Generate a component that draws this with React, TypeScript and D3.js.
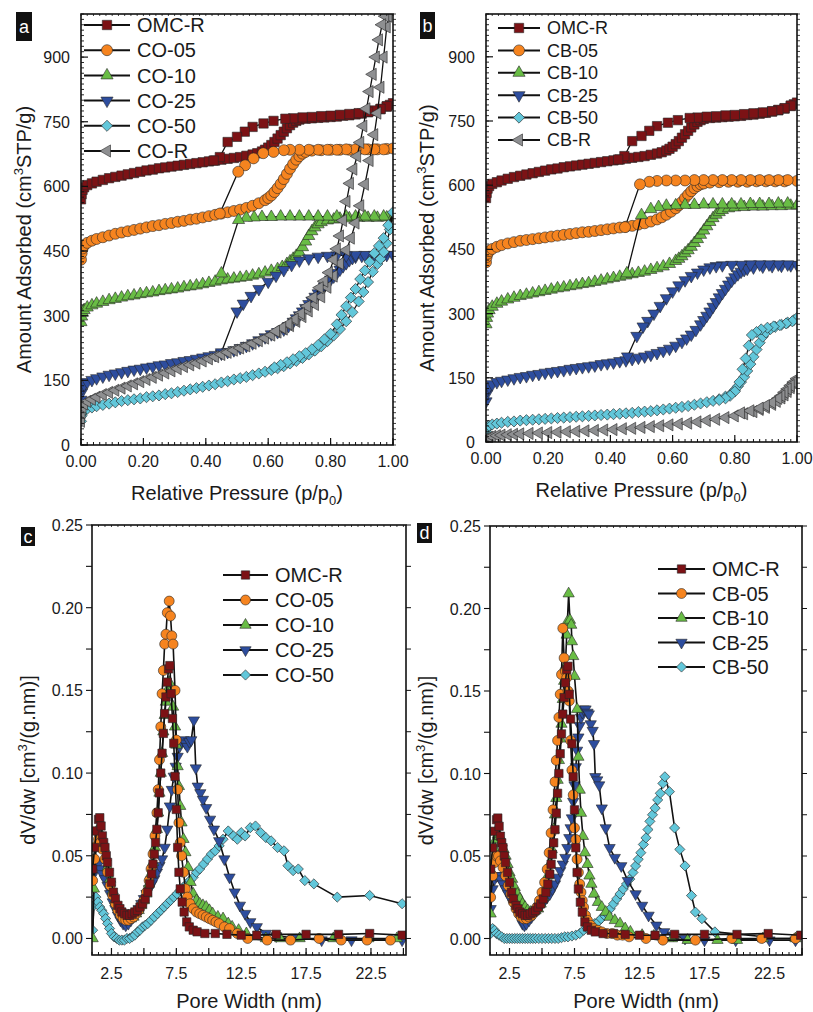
import React from 'react'
import * as d3 from 'd3'

// ---- isotherms, [p/p0, cm3 STP/g] ----
const omcR_ads = [[0,570],[0.002,582],[0.005,592],[0.01,598],[0.02,603],[0.035,607],[0.05,611],[0.07,615],[0.09,619],[0.11,622],[0.13,625],[0.15,628],[0.17,631],[0.19,634],[0.21,637],[0.23,639],[0.25,642],[0.27,644],[0.29,646],[0.31,648],[0.33,650],[0.35,652],[0.37,654],[0.39,656],[0.41,658],[0.43,660],[0.45,662],[0.47,664],[0.49,666],[0.51,668],[0.53,671],[0.55,674],[0.565,677],[0.58,681],[0.59,685],[0.6,690],[0.61,696],[0.62,703],[0.63,711],[0.64,719],[0.65,727],[0.66,735],[0.67,742],[0.68,748],[0.69,752],[0.7,755],[0.72,757],[0.74,758],[0.76,759],[0.78,760],[0.8,761],[0.82,762],[0.84,764],[0.86,765],[0.88,767],[0.9,769],[0.92,772],[0.94,775],[0.96,779],[0.98,785],[0.99,789],[1.0,793]]
const omcR_des = [[0.98,786],[0.96,780],[0.94,776],[0.92,773],[0.89,770],[0.86,768],[0.83,766],[0.8,764],[0.77,763],[0.74,761],[0.71,760],[0.68,758],[0.655,757],[0.617,752],[0.585,746],[0.55,738],[0.525,727],[0.5,715],[0.47,703],[0.445,668],[0.425,660]]

const co05_ads = [[0,430],[0.002,445],[0.005,456],[0.01,463],[0.02,469],[0.035,474],[0.05,478],[0.07,482],[0.09,486],[0.11,490],[0.13,493],[0.15,496],[0.17,499],[0.19,502],[0.21,505],[0.23,508],[0.25,510],[0.27,513],[0.29,515],[0.31,518],[0.33,520],[0.35,523],[0.37,525],[0.39,528],[0.41,531],[0.43,534],[0.45,537],[0.47,540],[0.49,543],[0.51,546],[0.53,550],[0.55,555],[0.57,561],[0.59,568],[0.6,573],[0.61,579],[0.62,587],[0.63,596],[0.64,606],[0.65,617],[0.66,629],[0.67,641],[0.68,652],[0.69,662],[0.7,670],[0.71,676],[0.72,680],[0.74,683],[0.77,684],[0.8,685],[0.83,685],[0.86,685],[0.89,686],[0.92,686],[0.95,686],[0.98,687],[1.0,688]]
const co05_des = [[0.97,686],[0.94,686],[0.91,686],[0.88,686],[0.85,686],[0.82,685],[0.79,685],[0.76,685],[0.73,685],[0.7,685],[0.67,685],[0.65,684],[0.617,680],[0.584,677],[0.553,665],[0.526,649],[0.504,634],[0.445,537]]

const co10_ads = [[0,285],[0.002,298],[0.005,307],[0.01,313],[0.02,319],[0.035,324],[0.05,328],[0.07,332],[0.09,336],[0.11,339],[0.13,342],[0.15,345],[0.17,347],[0.19,350],[0.21,352],[0.23,354],[0.25,357],[0.27,359],[0.29,361],[0.31,363],[0.33,366],[0.35,368],[0.37,370],[0.39,373],[0.41,376],[0.43,379],[0.45,382],[0.47,384],[0.49,386],[0.51,388],[0.53,390],[0.55,393],[0.57,396],[0.59,400],[0.61,404],[0.63,408],[0.645,413],[0.66,420],[0.67,426],[0.68,432],[0.69,439],[0.7,447],[0.71,459],[0.72,472],[0.73,485],[0.74,496],[0.75,505],[0.76,512],[0.77,517],[0.79,521],[0.81,523],[0.83,525],[0.86,526],[0.89,527],[0.92,527],[0.95,527],[0.98,528],[1.0,528]]
const co10_des = [[0.97,530],[0.94,530],[0.91,530],[0.88,530],[0.85,530],[0.82,530],[0.79,530],[0.76,530],[0.73,530],[0.7,530],[0.67,530],[0.64,530],[0.61,529],[0.58,529],[0.555,528],[0.53,527],[0.505,522],[0.45,398]]

const co25_ads = [[0,105],[0.002,122],[0.005,133],[0.01,140],[0.02,146],[0.035,151],[0.05,155],[0.07,159],[0.09,163],[0.11,166],[0.13,169],[0.15,172],[0.17,175],[0.19,177],[0.21,180],[0.23,182],[0.25,185],[0.27,187],[0.29,190],[0.31,192],[0.33,195],[0.35,197],[0.37,200],[0.39,203],[0.41,206],[0.43,209],[0.45,212],[0.47,216],[0.49,220],[0.51,225],[0.53,230],[0.55,236],[0.57,243],[0.59,250],[0.61,257],[0.63,262],[0.65,268],[0.665,276],[0.68,286],[0.69,294],[0.7,301],[0.71,310],[0.72,318],[0.73,327],[0.74,335],[0.75,344],[0.76,352],[0.77,360],[0.78,368],[0.79,376],[0.8,384],[0.81,391],[0.82,399],[0.83,407],[0.84,415],[0.85,422],[0.86,429],[0.87,434],[0.88,437],[0.9,439],[0.92,440],[0.95,440],[0.98,441],[1.0,441]]
const co25_des = [[0.97,441],[0.94,441],[0.91,441],[0.88,441],[0.85,440],[0.82,440],[0.79,439],[0.76,437],[0.73,433],[0.7,428],[0.675,418],[0.65,406],[0.625,393],[0.6,379],[0.57,362],[0.545,346],[0.52,328],[0.5,310],[0.45,215]]

const co50_ads = [[0,55],[0.002,68],[0.005,75],[0.01,80],[0.02,84],[0.035,87],[0.05,90],[0.07,93],[0.09,96],[0.11,99],[0.13,102],[0.15,104],[0.17,106],[0.19,108],[0.21,111],[0.23,113],[0.25,115],[0.27,118],[0.29,120],[0.31,123],[0.33,126],[0.35,129],[0.37,132],[0.39,135],[0.41,138],[0.43,141],[0.45,145],[0.47,148],[0.49,152],[0.51,155],[0.53,158],[0.55,162],[0.57,166],[0.59,170],[0.61,174],[0.63,178],[0.65,183],[0.67,189],[0.69,195],[0.71,202],[0.73,210],[0.75,219],[0.77,229],[0.79,241],[0.81,254],[0.83,269],[0.85,287],[0.87,308],[0.89,333],[0.905,355],[0.92,378],[0.935,402],[0.95,420],[0.96,432],[0.97,448],[0.98,468],[0.99,500],[1.0,540]]
const co50_des = [[0.985,510],[0.97,480],[0.955,462],[0.94,445],[0.925,425],[0.91,405],[0.895,385],[0.88,362],[0.865,342],[0.85,322],[0.835,302],[0.82,280],[0.8,258],[0.78,245],[0.76,232],[0.74,222],[0.72,213],[0.7,206],[0.68,199],[0.66,192],[0.64,186],[0.62,180]]

const coR_ads = [[0,55],[0.002,75],[0.005,88],[0.01,95],[0.02,101],[0.035,106],[0.05,111],[0.07,117],[0.09,122],[0.11,127],[0.13,132],[0.15,137],[0.17,142],[0.19,147],[0.21,152],[0.23,157],[0.25,162],[0.27,167],[0.29,172],[0.31,177],[0.33,182],[0.35,186],[0.37,190],[0.39,195],[0.41,200],[0.43,205],[0.45,210],[0.47,215],[0.49,220],[0.51,225],[0.53,230],[0.55,236],[0.57,242],[0.59,248],[0.61,255],[0.63,262],[0.65,269],[0.67,277],[0.69,287],[0.71,298],[0.73,311],[0.75,326],[0.77,344],[0.79,366],[0.81,392],[0.83,421],[0.85,452],[0.865,480],[0.88,515],[0.895,555],[0.91,605],[0.925,660],[0.94,720],[0.95,770],[0.96,830],[0.97,900],[0.98,970],[0.985,995]]
const coR_des = [[0.975,995],[0.965,975],[0.955,940],[0.945,900],[0.935,860],[0.925,820],[0.915,780],[0.905,740],[0.895,702],[0.885,670],[0.873,640],[0.862,607],[0.851,565],[0.84,521],[0.83,485],[0.82,455],[0.81,430],[0.795,400],[0.78,380],[0.765,365],[0.745,342],[0.725,322],[0.705,305],[0.685,292],[0.665,281],[0.645,272],[0.625,264]]

const cb05_ads = [[0,420],[0.002,432],[0.005,440],[0.01,446],[0.02,451],[0.035,456],[0.05,460],[0.07,464],[0.09,467],[0.11,470],[0.13,472],[0.15,474],[0.17,476],[0.19,478],[0.21,480],[0.23,482],[0.25,484],[0.27,486],[0.29,488],[0.31,490],[0.33,491],[0.35,493],[0.37,495],[0.39,497],[0.41,499],[0.43,501],[0.45,503],[0.47,505],[0.49,508],[0.51,511],[0.53,515],[0.55,520],[0.565,525],[0.58,531],[0.595,538],[0.61,546],[0.62,553],[0.63,561],[0.64,570],[0.65,578],[0.66,586],[0.67,593],[0.68,598],[0.69,602],[0.7,604],[0.72,606],[0.75,607],[0.78,608],[0.81,608],[0.84,608],[0.87,609],[0.9,609],[0.93,609],[0.96,609],[1.0,610]]
const cb05_des = [[0.97,612],[0.94,612],[0.91,612],[0.88,612],[0.85,612],[0.82,612],[0.79,612],[0.76,612],[0.73,612],[0.7,612],[0.67,612],[0.64,611],[0.61,611],[0.58,611],[0.55,610],[0.525,608],[0.495,602],[0.447,502]]

const cb10_ads = [[0,275],[0.002,290],[0.005,300],[0.01,308],[0.02,316],[0.035,323],[0.05,328],[0.07,333],[0.09,337],[0.11,341],[0.13,344],[0.15,347],[0.17,350],[0.19,353],[0.21,356],[0.23,359],[0.25,361],[0.27,364],[0.29,366],[0.31,369],[0.33,371],[0.35,374],[0.37,377],[0.39,380],[0.41,383],[0.43,386],[0.45,389],[0.47,392],[0.49,395],[0.51,398],[0.53,402],[0.55,406],[0.57,410],[0.59,416],[0.61,423],[0.62,428],[0.63,434],[0.64,441],[0.65,448],[0.66,456],[0.67,465],[0.68,474],[0.69,484],[0.7,494],[0.71,504],[0.72,514],[0.73,523],[0.74,531],[0.75,537],[0.76,542],[0.78,546],[0.8,548],[0.83,549],[0.86,550],[0.89,550],[0.92,551],[0.95,551],[0.98,552],[1.0,553]]
const cb10_des = [[0.97,557],[0.94,557],[0.91,556],[0.88,556],[0.85,556],[0.82,555],[0.79,555],[0.76,555],[0.73,555],[0.7,555],[0.67,554],[0.64,554],[0.61,553],[0.58,552],[0.555,549],[0.53,544],[0.5,530],[0.453,394]]

const cb25_ads = [[0,95],[0.002,112],[0.005,122],[0.01,129],[0.02,135],[0.035,140],[0.05,143],[0.07,146],[0.09,149],[0.11,152],[0.13,154],[0.15,157],[0.17,159],[0.19,162],[0.21,164],[0.23,166],[0.25,168],[0.27,171],[0.29,173],[0.31,175],[0.33,177],[0.35,179],[0.37,182],[0.39,184],[0.41,186],[0.43,189],[0.45,191],[0.47,194],[0.49,197],[0.51,200],[0.53,204],[0.55,208],[0.57,213],[0.59,218],[0.61,225],[0.63,234],[0.645,242],[0.66,251],[0.675,262],[0.69,275],[0.7,285],[0.71,295],[0.72,305],[0.73,316],[0.74,327],[0.75,338],[0.76,348],[0.77,358],[0.78,368],[0.79,377],[0.8,385],[0.81,392],[0.82,398],[0.83,402],[0.84,405],[0.86,408],[0.89,410],[0.92,411],[0.95,412],[0.98,413],[1.0,414]]
const cb25_des = [[0.97,415],[0.94,415],[0.91,415],[0.88,415],[0.85,415],[0.82,414],[0.79,414],[0.76,413],[0.74,411],[0.72,408],[0.7,403],[0.68,396],[0.66,388],[0.64,378],[0.62,366],[0.6,352],[0.58,336],[0.56,318],[0.54,300],[0.52,283],[0.505,270],[0.485,248],[0.455,200]]

const cb50_ads = [[0,25],[0.002,31],[0.005,35],[0.01,38],[0.02,41],[0.035,43],[0.05,45],[0.07,47],[0.09,48],[0.11,50],[0.13,51],[0.15,52],[0.17,53],[0.19,54],[0.21,55],[0.23,56],[0.25,57],[0.27,58],[0.29,59],[0.31,60],[0.33,61],[0.35,62],[0.37,63],[0.39,64],[0.41,65],[0.43,66],[0.45,67],[0.47,68],[0.49,70],[0.51,71],[0.53,72],[0.55,74],[0.57,76],[0.59,78],[0.61,80],[0.63,82],[0.65,84],[0.67,87],[0.69,90],[0.71,93],[0.73,96],[0.75,100],[0.77,106],[0.79,114],[0.8,121],[0.81,130],[0.82,140],[0.83,152],[0.84,166],[0.85,182],[0.86,199],[0.87,216],[0.88,232],[0.89,246],[0.9,256],[0.915,264],[0.93,269],[0.95,274],[0.97,279],[0.99,285],[1.0,290]]
const cb50_des = [[0.985,282],[0.965,277],[0.945,273],[0.925,270],[0.905,267],[0.885,263],[0.87,257],[0.855,250],[0.845,225],[0.835,195],[0.825,170],[0.815,140],[0.8,118],[0.785,108],[0.77,102],[0.75,98]]

const cbR_ads = [[0,5],[0.005,9],[0.01,11],[0.02,13],[0.035,15],[0.05,16],[0.07,17],[0.09,18],[0.11,19],[0.14,20],[0.17,21],[0.2,22],[0.23,23],[0.26,24],[0.29,25],[0.32,26],[0.35,27],[0.38,28],[0.41,29],[0.44,31],[0.47,32],[0.5,34],[0.53,36],[0.56,38],[0.59,40],[0.62,42],[0.65,44],[0.68,47],[0.71,50],[0.74,53],[0.77,57],[0.8,61],[0.83,66],[0.86,71],[0.88,76],[0.9,81],[0.92,88],[0.935,95],[0.95,103],[0.96,110],[0.97,118],[0.98,127],[0.99,137],[1.0,148]]
const cbR_des = [[0.99,140],[0.98,132],[0.97,124],[0.96,116],[0.95,108],[0.94,102],[0.92,92],[0.9,85],[0.88,79],[0.85,73],[0.82,68]]

// ---- pore size distributions, [nm, cm3/(g.nm)] ----
const omcR_psd = [[1.05,0.042],[1.2,0.055],[1.35,0.065],[1.5,0.072],[1.6,0.073],[1.7,0.068],[1.8,0.062],[1.9,0.058],[2.0,0.055],[2.1,0.05],[2.2,0.046],[2.35,0.04],[2.5,0.034],[2.65,0.028],[2.8,0.024],[3.0,0.02],[3.15,0.018],[3.3,0.016],[3.5,0.015],[3.7,0.014],[3.9,0.014],[4.1,0.015],[4.3,0.016],[4.5,0.017],[4.7,0.019],[4.9,0.021],[5.1,0.024],[5.3,0.028],[5.45,0.033],[5.6,0.039],[5.7,0.045],[5.8,0.051],[5.9,0.058],[6.0,0.066],[6.1,0.076],[6.2,0.088],[6.3,0.1],[6.4,0.112],[6.5,0.124],[6.6,0.136],[6.7,0.146],[6.8,0.155],[6.9,0.163],[7.0,0.165],[7.1,0.148],[7.2,0.133],[7.3,0.118],[7.4,0.098],[7.5,0.078],[7.6,0.055],[7.7,0.04],[7.8,0.03],[7.95,0.022],[8.1,0.016],[8.3,0.01],[8.5,0.007],[8.8,0.005],[9.1,0.004],[9.7,0.003],[10.5,0.003],[11.4,0.0025],[12.5,0.002],[13.7,0.002],[15.2,0.0025],[17.5,0.0025],[20.0,0.0025],[22.4,0.003],[24.9,0.002]]
const co05_psd = [[1.05,0.035],[1.2,0.048],[1.35,0.056],[1.5,0.06],[1.65,0.058],[1.8,0.054],[2.0,0.048],[2.2,0.04],[2.4,0.032],[2.6,0.026],[2.8,0.021],[3.0,0.017],[3.2,0.014],[3.4,0.012],[3.6,0.011],[3.8,0.011],[4.0,0.012],[4.2,0.013],[4.4,0.015],[4.6,0.017],[4.8,0.02],[5.0,0.023],[5.2,0.028],[5.4,0.035],[5.55,0.042],[5.7,0.051],[5.85,0.062],[6.0,0.076],[6.1,0.09],[6.2,0.108],[6.3,0.128],[6.4,0.148],[6.5,0.162],[6.6,0.178],[6.7,0.184],[6.8,0.197],[6.95,0.204],[7.05,0.195],[7.15,0.183],[7.25,0.178],[7.4,0.15],[7.5,0.12],[7.6,0.09],[7.7,0.07],[7.8,0.058],[7.9,0.05],[8.05,0.04],[8.2,0.03],[8.35,0.025],[8.55,0.021],[8.8,0.018],[9.05,0.016],[9.3,0.015],[9.55,0.014],[9.8,0.013],[10.05,0.012],[10.3,0.011],[10.55,0.01],[10.8,0.009],[11.2,0.007],[11.6,0.006],[12.2,0.003],[13.0,0.0],[14.5,-0.001],[16.3,-0.001],[18.5,0.0],[20.2,-0.001],[22.2,-0.001],[24.0,-0.001]]
const co10_psd = [[1.05,0.0],[1.15,0.03],[1.3,0.055],[1.45,0.066],[1.6,0.064],[1.75,0.06],[1.9,0.055],[2.05,0.049],[2.2,0.043],[2.4,0.036],[2.6,0.029],[2.8,0.023],[3.0,0.019],[3.2,0.016],[3.4,0.013],[3.6,0.012],[3.8,0.012],[4.0,0.012],[4.2,0.013],[4.4,0.015],[4.6,0.017],[4.8,0.02],[5.0,0.023],[5.2,0.027],[5.4,0.033],[5.55,0.039],[5.7,0.046],[5.85,0.055],[6.0,0.066],[6.1,0.076],[6.2,0.088],[6.3,0.1],[6.4,0.112],[6.5,0.125],[6.6,0.135],[6.7,0.143],[6.8,0.15],[6.95,0.155],[7.1,0.15],[7.25,0.14],[7.4,0.128],[7.5,0.117],[7.6,0.104],[7.7,0.092],[7.8,0.08],[7.9,0.07],[8.05,0.06],[8.2,0.052],[8.4,0.043],[8.6,0.034],[8.8,0.027],[9.05,0.023],[9.3,0.021],[9.55,0.02],[9.8,0.019],[10.05,0.017],[10.3,0.015],[10.7,0.013],[11.1,0.012],[11.5,0.009],[11.8,0.007],[12.3,0.005],[12.9,0.003],[13.6,0.001],[14.4,0.0],[15.5,0.0],[17.0,0.0],[19.6,0.0],[22.3,0.0],[24.5,0.0]]
const co25_psd = [[1.05,0.038],[1.2,0.043],[1.35,0.046],[1.5,0.045],[1.65,0.042],[1.8,0.039],[2.0,0.036],[2.2,0.032],[2.4,0.027],[2.6,0.022],[2.8,0.018],[3.0,0.014],[3.2,0.011],[3.4,0.009],[3.6,0.008],[3.8,0.009],[4.0,0.011],[4.2,0.013],[4.4,0.015],[4.6,0.018],[4.8,0.021],[5.0,0.024],[5.2,0.027],[5.4,0.03],[5.6,0.033],[5.8,0.036],[6.0,0.04],[6.2,0.044],[6.4,0.048],[6.6,0.055],[6.8,0.066],[7.0,0.08],[7.15,0.09],[7.3,0.098],[7.45,0.104],[7.6,0.11],[7.75,0.116],[7.9,0.119],[8.05,0.12],[8.2,0.118],[8.35,0.116],[8.5,0.119],[8.65,0.12],[8.85,0.132],[9.0,0.103],[9.15,0.092],[9.35,0.088],[9.55,0.084],[9.8,0.079],[10.1,0.072],[10.4,0.066],[10.8,0.059],[11.2,0.048],[11.6,0.037],[12.0,0.028],[12.4,0.02],[12.8,0.015],[13.2,0.01],[13.7,0.007],[14.4,0.003],[15.2,0.0015],[16.5,0.0005],[18.7,-0.001],[21.0,-0.001],[24.9,-0.001]]
const co50_psd = [[1.05,0.005],[1.15,0.02],[1.3,0.025],[1.45,0.022],[1.6,0.019],[1.75,0.017],[1.9,0.015],[2.05,0.012],[2.2,0.009],[2.35,0.006],[2.5,0.003],[2.7,0.001],[2.9,0.0],[3.1,-0.001],[3.3,-0.001],[3.5,-0.001],[3.7,0.0],[3.9,0.0],[4.1,0.001],[4.3,0.002],[4.5,0.004],[4.7,0.005],[4.9,0.007],[5.1,0.008],[5.3,0.009],[5.55,0.011],[5.8,0.013],[6.05,0.015],[6.3,0.017],[6.55,0.019],[6.8,0.021],[7.05,0.023],[7.3,0.025],[7.55,0.027],[7.8,0.029],[8.05,0.031],[8.3,0.033],[8.55,0.035],[8.8,0.037],[9.05,0.04],[9.3,0.042],[9.6,0.045],[9.9,0.048],[10.2,0.051],[10.5,0.053],[10.8,0.056],[11.1,0.06],[11.5,0.065],[11.9,0.062],[12.2,0.06],[12.5,0.064],[12.8,0.062],[13.2,0.067],[13.6,0.068],[14.0,0.064],[14.4,0.061],[14.8,0.059],[15.3,0.055],[15.8,0.053],[16.1,0.044],[16.5,0.041],[16.9,0.042],[17.4,0.035],[18.1,0.033],[19.9,0.025],[22.4,0.026],[24.9,0.021]]

const cb05_psd = [[1.05,0.025],[1.2,0.038],[1.35,0.046],[1.5,0.05],[1.65,0.05],[1.8,0.047],[2.0,0.043],[2.2,0.038],[2.4,0.032],[2.6,0.027],[2.8,0.022],[3.0,0.018],[3.2,0.015],[3.4,0.013],[3.6,0.012],[3.8,0.012],[4.0,0.013],[4.2,0.014],[4.4,0.016],[4.6,0.019],[4.8,0.023],[5.0,0.028],[5.2,0.034],[5.4,0.042],[5.55,0.052],[5.7,0.064],[5.85,0.078],[6.0,0.095],[6.1,0.108],[6.2,0.12],[6.3,0.134],[6.4,0.148],[6.5,0.16],[6.6,0.188],[6.7,0.17],[6.8,0.162],[6.9,0.158],[7.0,0.15],[7.1,0.144],[7.2,0.12],[7.3,0.102],[7.4,0.087],[7.5,0.067],[7.6,0.06],[7.7,0.048],[7.8,0.04],[7.9,0.033],[8.0,0.028],[8.1,0.023],[8.2,0.019],[8.35,0.014],[8.5,0.011],[8.75,0.008],[9.0,0.006],[9.3,0.005],[9.6,0.004],[10.0,0.003],[10.4,0.003],[10.8,0.002],[11.2,0.002],[11.7,0.001],[13.0,0.0],[14.3,-0.001],[16.8,-0.001],[19.6,0.0],[21.9,0.0],[24.5,0.0]]
const cb10_psd = [[1.05,0.015],[1.15,0.04],[1.3,0.055],[1.45,0.06],[1.6,0.063],[1.75,0.062],[1.9,0.058],[2.05,0.054],[2.2,0.05],[2.35,0.045],[2.5,0.04],[2.7,0.036],[2.9,0.031],[3.1,0.027],[3.3,0.024],[3.5,0.021],[3.7,0.019],[3.9,0.017],[4.1,0.016],[4.3,0.016],[4.5,0.017],[4.7,0.018],[4.9,0.021],[5.1,0.025],[5.3,0.031],[5.45,0.038],[5.6,0.045],[5.75,0.054],[5.9,0.066],[6.0,0.075],[6.1,0.085],[6.2,0.096],[6.3,0.108],[6.4,0.121],[6.5,0.13],[6.6,0.145],[6.7,0.156],[6.8,0.165],[6.9,0.184],[6.95,0.192],[7.05,0.209],[7.15,0.193],[7.25,0.19],[7.3,0.18],[7.4,0.171],[7.5,0.159],[7.7,0.139],[7.8,0.11],[7.9,0.09],[8.0,0.076],[8.15,0.062],[8.3,0.052],[8.5,0.045],[8.65,0.038],[8.8,0.033],[9.0,0.027],[9.3,0.022],[9.6,0.019],[9.9,0.016],[10.2,0.013],[10.6,0.011],[11.0,0.009],[11.4,0.006],[11.8,0.004],[12.7,0.002],[13.6,0.0015],[15.0,0.0],[16.2,-0.001],[18.5,-0.001],[20.0,-0.001],[22.0,0.0],[24.5,0.0]]
const cb25_psd = [[1.05,0.018],[1.2,0.03],[1.35,0.036],[1.5,0.038],[1.65,0.038],[1.8,0.036],[2.0,0.033],[2.2,0.03],[2.4,0.027],[2.6,0.024],[2.8,0.021],[3.0,0.018],[3.2,0.015],[3.35,0.012],[3.5,0.009],[3.65,0.008],[3.8,0.009],[4.0,0.011],[4.2,0.013],[4.4,0.015],[4.6,0.017],[4.8,0.019],[5.0,0.021],[5.2,0.023],[5.4,0.025],[5.6,0.027],[5.8,0.03],[6.0,0.033],[6.2,0.037],[6.4,0.041],[6.6,0.045],[6.8,0.049],[6.95,0.055],[7.1,0.061],[7.2,0.067],[7.3,0.073],[7.4,0.083],[7.5,0.093],[7.6,0.104],[7.7,0.114],[7.8,0.122],[7.9,0.129],[8.0,0.134],[8.1,0.137],[8.2,0.139],[8.35,0.139],[8.5,0.137],[8.6,0.136],[8.75,0.13],[8.9,0.126],[9.0,0.118],[9.1,0.098],[9.25,0.096],[9.4,0.093],[9.6,0.079],[9.9,0.067],[10.2,0.055],[10.6,0.049],[11.1,0.044],[11.6,0.035],[12.2,0.027],[12.7,0.02],[13.2,0.014],[13.8,0.008],[14.4,0.004],[15.1,0.002],[16.0,0.0],[17.5,-0.001],[19.9,-0.001],[22.5,-0.001],[24.5,-0.001]]
const cb50_psd = [[1.05,0.003],[1.2,0.006],[1.35,0.005],[1.5,0.003],[1.7,0.002],[1.9,0.001],[2.1,0.0],[2.3,0.0],[2.5,0.0],[2.7,0.0],[2.9,0.0],[3.1,0.0],[3.3,0.0],[3.5,0.0],[3.7,0.0],[3.9,0.0],[4.1,0.0],[4.3,0.0],[4.5,0.0],[4.75,0.0],[5.0,0.0],[5.25,0.0],[5.5,0.0],[5.75,0.0],[6.0,0.0],[6.25,0.0],[6.5,0.0005],[6.75,0.001],[7.0,0.001],[7.3,0.0015],[7.6,0.002],[7.9,0.003],[8.2,0.005],[8.5,0.006],[8.8,0.008],[9.05,0.009],[9.3,0.01],[9.55,0.012],[9.8,0.014],[10.0,0.015],[10.25,0.018],[10.5,0.021],[10.75,0.024],[11.0,0.027],[11.25,0.03],[11.5,0.033],[11.75,0.036],[12.0,0.04],[12.2,0.044],[12.4,0.048],[12.6,0.052],[12.8,0.057],[13.0,0.061],[13.15,0.066],[13.3,0.071],[13.5,0.075],[13.7,0.079],[13.9,0.084],[14.1,0.088],[14.3,0.094],[14.45,0.098],[14.8,0.089],[15.2,0.067],[15.6,0.054],[16.0,0.044],[16.5,0.026],[16.8,0.016],[17.3,0.012],[18.3,0.004],[22.2,0.001]]

// ---- axes ----
const isoXTicks = [0, 0.2, 0.4, 0.6, 0.8, 1.0]
const isoXLabels = ['0.00', '0.20', '0.40', '0.60', '0.80', '1.00']
const isoYTicks = [0, 150, 300, 450, 600, 750, 900]
const psdXTicks = [2.5, 7.5, 12.5, 17.5, 22.5]
const psdXLabels = ['2.5', '7.5', '12.5', '17.5', '22.5']
const psdYTicks = [0, 0.05, 0.1, 0.15, 0.2, 0.25]
const psdYLabels = ['0.00', '0.05', '0.10', '0.15', '0.20', '0.25']

const FONT = 'Liberation Sans, Arial, Helvetica, sans-serif'
const C = { omc: '#7c1215', orange: '#f6841f', green: '#69bd45', blue: '#2d4d9e', cyan: '#62c7da', gray: '#8e8f91' }

const SYM = { square: d3.symbolSquare, circle: d3.symbolCircle, up: d3.symbolTriangle, down: d3.symbolTriangle, diamond: d3.symbolSquare, left: d3.symbolTriangle }
const ROT = { square: 0, circle: 0, up: 0, down: 180, diamond: 45, left: -90 }
const SIZE_ISO = { square: 88, circle: 95, up: 64, down: 64, diamond: 62, left: 64 }
const SIZE_PSD = { square: 70, circle: 78, up: 55, down: 55, diamond: 52, left: 55 }

const isoA = [
  { name: 'OMC-R', color: C.omc, shape: 'square', ads: omcR_ads, des: omcR_des },
  { name: 'CO-05', color: C.orange, shape: 'circle', ads: co05_ads, des: co05_des },
  { name: 'CO-10', color: C.green, shape: 'up', ads: co10_ads, des: co10_des },
  { name: 'CO-25', color: C.blue, shape: 'down', ads: co25_ads, des: co25_des },
  { name: 'CO-50', color: C.cyan, shape: 'diamond', ads: co50_ads, des: co50_des },
  { name: 'CO-R', color: C.gray, shape: 'left', ads: coR_ads, des: coR_des },
]
const isoB = [
  { name: 'OMC-R', color: C.omc, shape: 'square', ads: omcR_ads, des: omcR_des },
  { name: 'CB-05', color: C.orange, shape: 'circle', ads: cb05_ads, des: cb05_des },
  { name: 'CB-10', color: C.green, shape: 'up', ads: cb10_ads, des: cb10_des },
  { name: 'CB-25', color: C.blue, shape: 'down', ads: cb25_ads, des: cb25_des },
  { name: 'CB-50', color: C.cyan, shape: 'diamond', ads: cb50_ads, des: cb50_des },
  { name: 'CB-R', color: C.gray, shape: 'left', ads: cbR_ads, des: cbR_des },
]
const psdC = [
  { name: 'OMC-R', color: C.omc, shape: 'square', pts: omcR_psd },
  { name: 'CO-05', color: C.orange, shape: 'circle', pts: co05_psd },
  { name: 'CO-10', color: C.green, shape: 'up', pts: co10_psd },
  { name: 'CO-25', color: C.blue, shape: 'down', pts: co25_psd },
  { name: 'CO-50', color: C.cyan, shape: 'diamond', pts: co50_psd },
]
const psdD = [
  { name: 'OMC-R', color: C.omc, shape: 'square', pts: omcR_psd },
  { name: 'CB-05', color: C.orange, shape: 'circle', pts: cb05_psd },
  { name: 'CB-10', color: C.green, shape: 'up', pts: cb10_psd },
  { name: 'CB-25', color: C.blue, shape: 'down', pts: cb25_psd },
  { name: 'CB-50', color: C.cyan, shape: 'diamond', pts: cb50_psd },
]

function Marker({ shape, x, y, size, fill }) {
  const d = d3.symbol(SYM[shape], size)()
  return <path d={d} transform={`translate(${x},${y}) rotate(${ROT[shape]})`} fill={fill} stroke="#262626" strokeWidth={0.6} />
}

function Tag({ x, y, w, h, text }) {
  return (
    <g>
      <rect x={x} y={y} width={w} height={h} fill="#111" />
      <text x={x + w / 2} y={y + h / 2 + 6} textAnchor="middle" fill="#fff" fontSize={18} fontFamily={FONT}>{text}</text>
    </g>
  )
}

function Legend({ items, x0, x1, y0, dy, fontSize, sizes }) {
  const xm = (x0 + x1) / 2
  return (
    <g>
      {items.map((s, i) => {
        const yy = y0 + i * dy
        return (
          <g key={s.name}>
            <line x1={x0} x2={x1} y1={yy} y2={yy} stroke="#111" strokeWidth={2} />
            <Marker shape={s.shape} x={xm} y={yy} size={sizes[s.shape]} fill={s.color} />
            <text x={x1 + 7} y={yy + fontSize * 0.36} fontSize={fontSize} fontFamily={FONT} fill="#1a1a1a">{s.name}</text>
          </g>
        )
      })}
    </g>
  )
}

function IsoPanel({ id, left, right, top, bottom, series, tag, yTitleX, legend }) {
  const x = d3.scaleLinear().domain([0, 1]).range([left, right])
  const y = d3.scaleLinear().domain([0, 1000]).range([bottom, top])
  const line = d3.line().x(d => x(d[0])).y(d => y(d[1]))
  const xMinor = d3.range(0, 51).map(i => i * 0.02)
  const yMinor = d3.range(0, 81).map(i => i * 12.5)
  return (
    <g>
      <defs>
        <clipPath id={id}><rect x={left} y={top} width={right - left} height={bottom - top} /></clipPath>
      </defs>
      <g clipPath={`url(#${id})`}>
        {series.map(s => {
          const pts = s.ads.concat(s.des)
          return (
            <g key={s.name}>
              <path d={line(pts)} fill="none" stroke="#111" strokeWidth={1.3} />
              {pts.map((p, i) => <Marker key={i} shape={s.shape} x={x(p[0])} y={y(p[1])} size={SIZE_ISO[s.shape]} fill={s.color} />)}
            </g>
          )
        })}
      </g>
      {xMinor.map((t, i) => <line key={'xm' + i} x1={x(t)} x2={x(t)} y1={bottom} y2={bottom - 3} stroke="#111" strokeWidth={1} />)}
      {xMinor.map((t, i) => <line key={'xt' + i} x1={x(t)} x2={x(t)} y1={top} y2={top + 2} stroke="#111" strokeWidth={0.8} />)}
      {isoXTicks.map(t => <line key={'xM' + t} x1={x(t)} x2={x(t)} y1={bottom} y2={bottom - 7} stroke="#111" strokeWidth={1.2} />)}
      {yMinor.map((t, i) => <line key={'ym' + i} x1={left} x2={left + 3} y1={y(t)} y2={y(t)} stroke="#111" strokeWidth={0.9} />)}
      {yMinor.map((t, i) => <line key={'yr' + i} x1={right} x2={right + 3} y1={y(t)} y2={y(t)} stroke="#111" strokeWidth={0.8} />)}
      {isoYTicks.map(t => <line key={'yM' + t} x1={left} x2={left + 7} y1={y(t)} y2={y(t)} stroke="#111" strokeWidth={1.2} />)}
      <rect x={left} y={top} width={right - left} height={bottom - top} fill="none" stroke="#111" strokeWidth={1.6} />
      {isoXTicks.map((t, i) => (
        <text key={'xl' + t} x={x(t)} y={bottom + 22} textAnchor="middle" fontSize={16} fontFamily={FONT} fill="#1a1a1a">{isoXLabels[i]}</text>
      ))}
      {isoYTicks.map(t => (
        <text key={'yl' + t} x={left - 11} y={y(t) + 6} textAnchor="end" fontSize={16} fontFamily={FONT} fill="#1a1a1a">{t}</text>
      ))}
      <text x={(left + right) / 2} y={bottom + 55} textAnchor="middle" fontSize={20} fontFamily={FONT} fill="#1a1a1a">
        Relative Pressure (p/p<tspan fontSize={13} dy={5}>0</tspan><tspan dy={-5}>)</tspan>
      </text>
      <text transform={`translate(${yTitleX},${(top + bottom) / 2 + 10}) rotate(-90)`} textAnchor="middle" fontSize={20} fontFamily={FONT} fill="#1a1a1a">
        Amount Adsorbed (cm<tspan fontSize={13} dy={-8}>3</tspan><tspan dy={8}>STP/g)</tspan>
      </text>
      <Tag {...tag} />
      <Legend items={series} {...legend} sizes={SIZE_ISO} />
    </g>
  )
}

function PsdPanel({ id, left, right, top, bottom, xMax, series, tag, yTitleX, legend }) {
  const x = d3.scaleLinear().domain([1, xMax]).range([left, right])
  const y = d3.scaleLinear().domain([-0.01, 0.25]).range([bottom, top])
  const line = d3.line().x(d => x(d[0])).y(d => y(d[1]))
  const xMinor = d3.range(2, Math.floor(xMax * 2) + 1).map(i => i * 0.5)
  const xMajor = d3.range(1, 11).map(i => i * 2.5).filter(t => t <= xMax)
  const yMinor = d3.range(0, 11).map(i => i * 0.025)
  const drawn = series.slice().reverse()
  return (
    <g>
      <defs>
        <clipPath id={id}><rect x={left} y={top} width={right - left} height={bottom - top} /></clipPath>
      </defs>
      <g clipPath={`url(#${id})`}>
        {drawn.map(s => (
          <g key={s.name}>
            <path d={line(s.pts)} fill="none" stroke="#111" strokeWidth={1.6} />
            {s.pts.map((p, i) => <Marker key={i} shape={s.shape} x={x(p[0])} y={y(p[1])} size={SIZE_PSD[s.shape]} fill={s.color} />)}
          </g>
        ))}
      </g>
      {xMinor.map((t, i) => <line key={'xm' + i} x1={x(t)} x2={x(t)} y1={bottom} y2={bottom - 3} stroke="#111" strokeWidth={1} />)}
      {xMinor.map((t, i) => <line key={'xt' + i} x1={x(t)} x2={x(t)} y1={top} y2={top + 2} stroke="#111" strokeWidth={0.8} />)}
      {xMajor.map(t => <line key={'xM' + t} x1={x(t)} x2={x(t)} y1={bottom} y2={bottom - 7} stroke="#111" strokeWidth={1.2} />)}
      {yMinor.map((t, i) => <line key={'yl' + i} x1={left - 6} x2={left} y1={y(t)} y2={y(t)} stroke="#111" strokeWidth={1.1} />)}
      {yMinor.map((t, i) => <line key={'yr' + i} x1={right} x2={right + 5} y1={y(t)} y2={y(t)} stroke="#111" strokeWidth={1} />)}
      <rect x={left} y={top} width={right - left} height={bottom - top} fill="none" stroke="#111" strokeWidth={1.6} />
      {psdXTicks.map((t, i) => (
        <text key={'xl' + t} x={x(t)} y={bottom + 24} textAnchor="middle" fontSize={16} fontFamily={FONT} fill="#1a1a1a">{psdXLabels[i]}</text>
      ))}
      {psdYTicks.map((t, i) => (
        <text key={'ylb' + t} x={left - 9} y={y(t) + 6} textAnchor="end" fontSize={16} fontFamily={FONT} fill="#1a1a1a">{psdYLabels[i]}</text>
      ))}
      <text x={(left + right) / 2} y={bottom + 53} textAnchor="middle" fontSize={20} fontFamily={FONT} fill="#1a1a1a">Pore Width (nm)</text>
      <text transform={`translate(${yTitleX},${(top + bottom) / 2 + 20}) rotate(-90)`} textAnchor="middle" fontSize={20} fontFamily={FONT} fill="#1a1a1a">
        dV/dw [cm<tspan fontSize={13} dy={-8}>3</tspan><tspan dy={8}>/(g.nm)]</tspan>
      </text>
      <Tag {...tag} />
      <Legend items={series} {...legend} sizes={SIZE_PSD} />
    </g>
  )
}

export default function App() {
  return (
    <svg width={813} height={1012} style={{ position: 'absolute', left: 0, top: 0, background: '#fff' }}>
      <IsoPanel id="clipA" left={81} right={393} top={14} bottom={445} series={isoA}
        tag={{ x: 16, y: 12, w: 16, h: 29, text: 'a' }} yTitleX={31}
        legend={{ x0: 84, x1: 130, y0: 25, dy: 25.2, fontSize: 20 }} />
      <IsoPanel id="clipB" left={486} right={797} top={14} bottom={442} series={isoB}
        tag={{ x: 420, y: 12, w: 15, h: 27, text: 'b' }} yTitleX={434}
        legend={{ x0: 498, x1: 540, y0: 28, dy: 22.4, fontSize: 18 }} />
      <PsdPanel id="clipC" left={92} right={406} top={525} bottom={955} xMax={25.2} series={psdC}
        tag={{ x: 21, y: 527, w: 14, h: 19, text: 'c' }} yTitleX={35}
        legend={{ x0: 223, x1: 268, y0: 575, dy: 25, fontSize: 20 }} />
      <PsdPanel id="clipD" left={490} right={802} top={526} bottom={955} xMax={25} series={psdD}
        tag={{ x: 417, y: 523, w: 15, h: 20, text: 'd' }} yTitleX={433}
        legend={{ x0: 658, x1: 705, y0: 569, dy: 24.5, fontSize: 20 }} />
    </svg>
  )
}
